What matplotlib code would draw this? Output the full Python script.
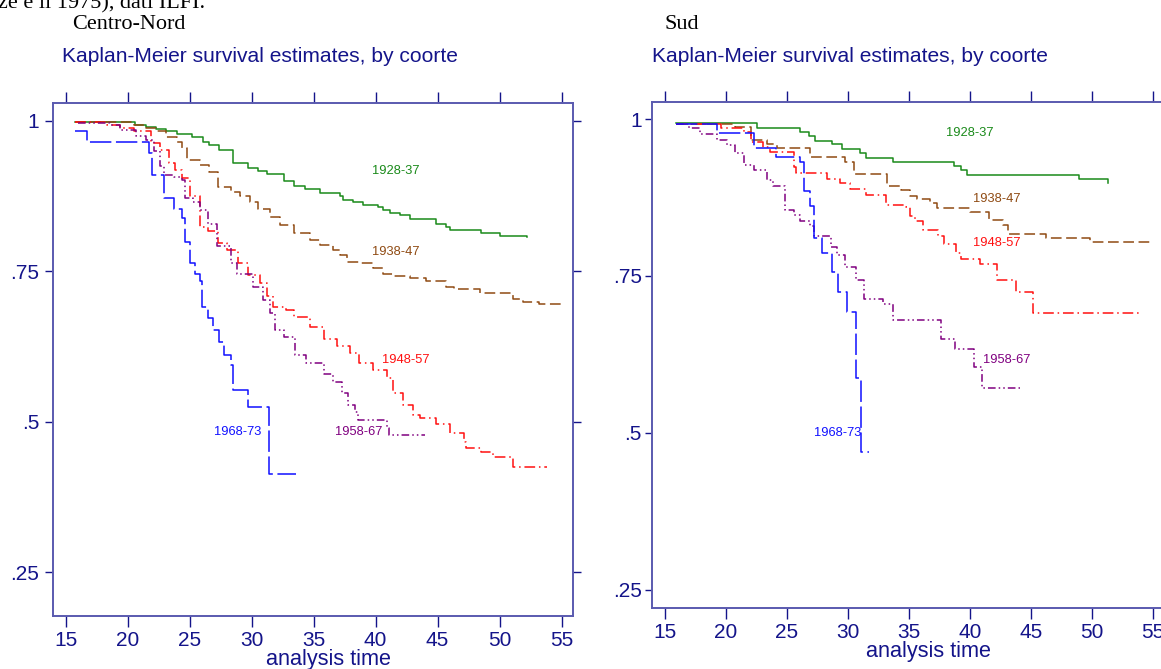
import matplotlib
matplotlib.use("Agg")
import matplotlib.pyplot as plt

# ---------------- data ----------------
cohorts = ["1928-37", "1938-47", "1948-57", "1958-67", "1968-73"]
xticks = [15, 20, 25, 30, 35, 40, 45, 50, 55]
yticks = [0.25, 0.5, 0.75, 1.0]
yticklabels = [".25", ".5", ".75", "1"]

# Centro-Nord
cn_1928_t = [15.75, 20.6, 21.5, 22.3, 23.1, 24.0, 25.2, 26.1, 26.6, 27.4, 28.5, 29.7, 30.5, 31.2, 32.6, 33.4, 34.3,
             35.5, 37.1, 37.4, 38.2, 39.0, 40.2, 40.6, 41.2, 42.0, 42.8, 44.9, 45.7, 46.0, 48.5, 50.0, 52.2]
cn_1928_s = [0.997, 0.993, 0.990, 0.986, 0.982, 0.977, 0.972, 0.965, 0.960, 0.951, 0.930, 0.922, 0.917, 0.911, 0.900,
             0.892, 0.886, 0.879, 0.874, 0.868, 0.865, 0.860, 0.857, 0.852, 0.847, 0.843, 0.836, 0.829, 0.824, 0.818,
             0.814, 0.808, 0.806]
cn_1938_t = [15.75, 20.5, 21.5, 22.3, 23.1, 24.0, 24.4, 24.8, 25.8, 26.6, 27.3, 28.3, 29.1, 29.9, 30.5, 31.5, 32.3,
             33.4, 34.7, 35.5, 36.6, 37.1, 37.7, 38.7, 39.8, 40.6, 41.4, 42.8, 44.1, 45.7, 46.3, 48.4, 51.1, 51.9,
             53.2, 55.0]
cn_1938_s = [0.997, 0.993, 0.987, 0.982, 0.973, 0.965, 0.954, 0.935, 0.926, 0.915, 0.889, 0.882, 0.874, 0.865, 0.854,
             0.840, 0.827, 0.814, 0.802, 0.793, 0.785, 0.777, 0.766, 0.763, 0.755, 0.746, 0.742, 0.738, 0.733, 0.724,
             0.720, 0.714, 0.703, 0.699, 0.695, 0.695]
cn_1948_t = [15.75, 18.3, 19.4, 20.5, 21.9, 22.6, 23.3, 23.8, 24.4, 25.0, 25.8, 26.5, 27.3, 28.0, 28.9, 29.7, 30.7,
             31.2, 31.7, 32.8, 33.4, 34.7, 35.8, 36.9, 37.9, 38.7, 39.8, 40.9, 41.4, 42.2, 43.0, 43.6, 44.9, 46.0,
             47.1, 47.3, 48.5, 49.5, 51.1, 53.8]
cn_1948_s = [0.997, 0.993, 0.987, 0.982, 0.962, 0.951, 0.929, 0.918, 0.904, 0.874, 0.824, 0.816, 0.796, 0.785, 0.763,
             0.744, 0.730, 0.708, 0.691, 0.686, 0.674, 0.658, 0.638, 0.625, 0.614, 0.597, 0.586, 0.572, 0.547, 0.528,
             0.511, 0.506, 0.497, 0.481, 0.467, 0.456, 0.450, 0.441, 0.425, 0.425]
cn_1958_t = [16.0, 18.6, 19.4, 20.7, 21.5, 22.1, 22.6, 22.9, 23.7, 24.4, 24.6, 25.3, 25.8, 26.5, 27.2, 28.3, 28.8,
             30.1, 30.9, 31.5, 31.9, 32.6, 33.5, 34.4, 35.8, 36.6, 37.3, 37.8, 38.3, 38.6, 40.9, 41.1, 44.0]
cn_1958_s = [0.996, 0.993, 0.984, 0.975, 0.967, 0.949, 0.924, 0.910, 0.906, 0.901, 0.871, 0.865, 0.852, 0.829, 0.791,
             0.763, 0.746, 0.724, 0.702, 0.680, 0.652, 0.641, 0.611, 0.597, 0.580, 0.566, 0.547, 0.528, 0.517, 0.503,
             0.489, 0.478, 0.478]
cn_1968_t = [15.75, 16.7, 21.7, 22.0, 22.9, 23.7, 24.4, 24.6, 25.0, 25.4, 25.8, 26.0, 26.5, 26.9, 27.4, 27.8, 28.3,
             28.5, 29.7, 31.4, 33.6]
cn_1968_s = [0.982, 0.964, 0.946, 0.910, 0.872, 0.854, 0.838, 0.799, 0.763, 0.746, 0.733, 0.691, 0.672, 0.652, 0.633,
             0.611, 0.594, 0.553, 0.525, 0.413, 0.413]

# Sud
sud_1928_t = [15.9, 22.6, 26.1, 26.8, 27.3, 28.7, 29.5, 31.0, 31.5, 33.7, 38.7, 39.3, 39.8, 48.9, 51.3]
sud_1928_s = [0.994, 0.986, 0.979, 0.973, 0.966, 0.960, 0.953, 0.946, 0.938, 0.931, 0.926, 0.919, 0.911, 0.904, 0.898]
sud_1938_t = [15.9, 20.8, 22.1, 23.4, 24.2, 26.9, 29.8, 30.5, 33.2, 34.4, 35.1, 35.7, 36.7, 37.3, 40.0, 41.6, 42.7,
              43.1, 46.2, 49.8, 54.9]
sud_1938_s = [0.992, 0.988, 0.967, 0.960, 0.954, 0.939, 0.932, 0.912, 0.893, 0.887, 0.878, 0.873, 0.866, 0.859, 0.852,
              0.840, 0.831, 0.817, 0.811, 0.805, 0.803]
sud_1948_t = [15.9, 19.6, 21.5, 22.1, 23.1, 23.6, 25.6, 25.8, 28.3, 29.4, 30.2, 31.5, 33.1, 34.8, 35.1, 35.5, 36.2,
              37.4, 37.9, 38.9, 39.3, 40.8, 42.2, 43.8, 45.2, 53.9]
sud_1948_s = [0.992, 0.986, 0.980, 0.964, 0.956, 0.948, 0.924, 0.914, 0.904, 0.898, 0.888, 0.879, 0.863, 0.860, 0.846,
              0.838, 0.823, 0.813, 0.801, 0.786, 0.777, 0.769, 0.744, 0.725, 0.691, 0.690]
sud_1958_t = [15.9, 17.0, 17.9, 19.3, 20.1, 20.8, 21.5, 22.3, 23.4, 23.9, 24.9, 25.6, 26.1, 26.9, 27.2, 28.6, 29.1,
              29.8, 30.7, 31.3, 32.9, 33.7, 37.6, 38.8, 40.3, 41.0, 44.1]
sud_1958_s = [0.992, 0.986, 0.976, 0.967, 0.959, 0.946, 0.927, 0.919, 0.903, 0.893, 0.855, 0.847, 0.837, 0.829, 0.813,
              0.797, 0.784, 0.765, 0.744, 0.714, 0.706, 0.680, 0.649, 0.633, 0.605, 0.571, 0.571]
sud_1968_t = [15.9, 19.3, 22.3, 24.1, 26.1, 26.4, 26.9, 27.2, 27.9, 28.7, 29.2, 29.9, 30.7, 31.1, 31.7]
sud_1968_s = [0.992, 0.978, 0.954, 0.940, 0.931, 0.885, 0.861, 0.810, 0.786, 0.757, 0.725, 0.693, 0.587, 0.470, 0.470]

# label anchor positions (data coordinates)
cn_label_x = [41.6, 41.6, 42.4, 38.6, 28.9]
cn_label_y = [0.916, 0.782, 0.603, 0.483, 0.483]
sud_label_x = [40.0, 42.2, 42.2, 43.0, 29.2]
sud_label_y = [0.978, 0.873, 0.803, 0.616, 0.500]

# ---------------- styles ----------------
colors = ["#1a8a1a", "#8f4a12", "#ff1010", "#800080", "#1010ff"]
dashes = [None, (7, 3), (7, 2.5, 1, 2.5), (5, 2, 1, 2, 1, 2), (14, 3)]
NAVY = "#14148a"
SPINE = "#5a5aaf"
SANS = "Liberation Sans"
SERIF = "Liberation Serif"

W, H = 1161, 669
fig = plt.figure(figsize=(W / 100, H / 100), dpi=100)


def fx(px):
    return px / W


def fy(py):
    return 1 - py / H


def make_axes(left, right, top, bottom, ylim, ytick_len, xtick_len, ypad, xpad):
    ax = fig.add_axes([fx(left), fy(bottom), fx(right) - fx(left), fy(top) - fy(bottom)])
    ax.set_xlim(13.95, 55.95)
    ax.set_ylim(*ylim)
    for sp in ax.spines.values():
        sp.set_color(SPINE)
        sp.set_linewidth(1.4)
    ax.set_xticks(xticks)
    ax.set_xticklabels([str(v) for v in xticks])
    ax.set_yticks(yticks)
    ax.set_yticklabels(yticklabels)
    ax.tick_params(axis="x", which="both", direction="out", length=xtick_len, width=1.0, color=NAVY,
                   top=True, bottom=True, labeltop=False, labelbottom=True, labelsize=15, labelcolor=NAVY,
                   pad=xpad)
    ax.tick_params(axis="y", which="both", direction="out", length=ytick_len, width=1.0, color=NAVY,
                   left=True, right=True, labelleft=True, labelright=False, labelsize=15, labelcolor=NAVY,
                   pad=ypad)
    for lab in ax.get_xticklabels() + ax.get_yticklabels():
        lab.set_family(SANS)
    return ax


def draw(ax, series, labx, laby):
    for i, (t, s) in enumerate(series):
        line, = ax.step(t, s, color=colors[i], lw=1.1, where="post")
        if dashes[i] is not None:
            line.set_dashes(dashes[i])
        ax.text(labx[i], laby[i], cohorts[i], color=colors[i], fontsize=9.3, family=SANS,
                ha="center", va="center")


ax1 = make_axes(52.7, 573.3, 102.5, 615.7, (0.178, 1.030), 5.8, 8.0, 4, 3)
draw(ax1, [(cn_1928_t, cn_1928_s), (cn_1938_t, cn_1938_s), (cn_1948_t, cn_1948_s),
           (cn_1958_t, cn_1958_s), (cn_1968_t, cn_1968_s)], cn_label_x, cn_label_y)

ax2 = make_axes(651.7, 1164.7, 102.3, 607.7, (0.221, 1.027), 5.0, 8.0, 2, 3)
draw(ax2, [(sud_1928_t, sud_1928_s), (sud_1938_t, sud_1938_s), (sud_1948_t, sud_1948_s),
           (sud_1958_t, sud_1958_s), (sud_1968_t, sud_1968_s)], sud_label_x, sud_label_y)

# axis titles
fig.text(fx(328), fy(660), "analysis time", color=NAVY, fontsize=15.6, family=SANS, ha="center", va="center")
fig.text(fx(928), fy(651), "analysis time", color=NAVY, fontsize=15.6, family=SANS, ha="center", va="center")

# plot titles
fig.text(fx(62), fy(57), "Kaplan-Meier survival estimates, by coorte", color=NAVY, fontsize=15.1,
         family=SANS, ha="left", va="center")
fig.text(fx(652), fy(57), "Kaplan-Meier survival estimates, by coorte", color=NAVY, fontsize=15.1,
         family=SANS, ha="left", va="center")

# panel headers (document text)
fig.text(fx(72), fy(29), "Centro-Nord", color="black", fontsize=16, family=SERIF, ha="left", va="baseline")
fig.text(fx(665), fy(29), "Sud", color="black", fontsize=16, family=SERIF, ha="left", va="baseline")
fig.text(fx(205), fy(8), "ze e il 1975), dati ILFI.", color="black", fontsize=16, family=SERIF,
         ha="right", va="baseline")

fig.savefig("out.png", dpi=100)
